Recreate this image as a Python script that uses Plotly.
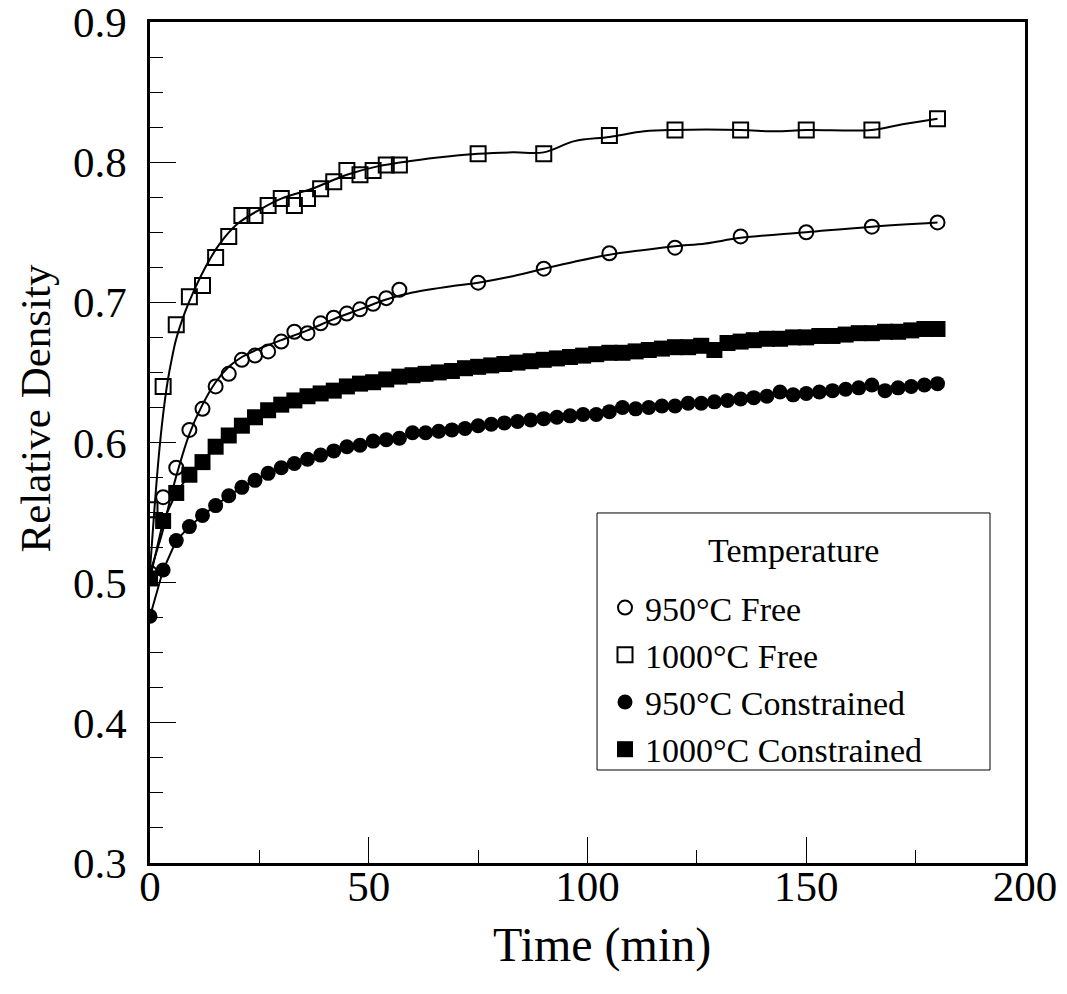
import plotly.graph_objects as go

# ---- data ----
t_free = [0, 3, 6, 9, 12, 15, 18, 21, 24, 27, 30, 33, 36, 39, 42, 45, 48, 51, 54, 57,
          75, 90, 105, 120, 135, 150, 165, 180]
rd_950_free = [0.507, 0.561, 0.582, 0.609, 0.624, 0.640, 0.649, 0.659, 0.662, 0.665,
               0.672, 0.679, 0.678, 0.685, 0.689, 0.692, 0.695, 0.699, 0.703, 0.709,
               0.714, 0.724, 0.735, 0.739, 0.747, 0.750, 0.754, 0.757]
rd_1000_free = [0.552, 0.640, 0.684, 0.704, 0.712, 0.732, 0.747, 0.762, 0.762, 0.769,
                0.774, 0.769, 0.774, 0.781, 0.786, 0.794, 0.791, 0.794, 0.798, 0.798,
                0.806, 0.806, 0.819, 0.823, 0.823, 0.823, 0.823, 0.831]

t_con = [0, 3, 6, 9, 12, 15, 18, 21, 24, 27, 30, 33, 36, 39, 42, 45, 48, 51, 54, 57,
         60, 63, 66, 69, 72, 75, 78, 81, 84, 87, 90, 93, 96, 99, 102, 105, 108, 111,
         114, 117, 120, 123, 126, 129, 132, 135, 138, 141, 144, 147, 150, 153, 156,
         159, 162, 165, 168, 171, 174, 177, 180]
rd_950_con = [0.476, 0.509, 0.530, 0.540, 0.548, 0.555, 0.562, 0.568, 0.573, 0.578,
              0.582, 0.585, 0.588, 0.591, 0.594, 0.597, 0.598, 0.601, 0.602, 0.603,
              0.607, 0.607, 0.608, 0.609, 0.610, 0.612, 0.613, 0.614, 0.615, 0.616,
              0.617, 0.618, 0.619, 0.620, 0.620, 0.622, 0.625, 0.624, 0.625, 0.626,
              0.626, 0.628, 0.628, 0.629, 0.630, 0.631, 0.632, 0.633, 0.636, 0.634,
              0.635, 0.636, 0.637, 0.638, 0.639, 0.641, 0.637, 0.639, 0.640, 0.641,
              0.642]
rd_1000_con = [0.503, 0.544, 0.564, 0.577, 0.586, 0.597, 0.605, 0.612, 0.618, 0.623,
               0.627, 0.630, 0.633, 0.635, 0.637, 0.640, 0.642, 0.643, 0.645, 0.647,
               0.648, 0.649, 0.650, 0.651, 0.653, 0.654, 0.655, 0.656, 0.657, 0.658,
               0.659, 0.660, 0.661, 0.662, 0.663, 0.664, 0.664, 0.665, 0.666, 0.667,
               0.668, 0.668, 0.669, 0.666, 0.671, 0.672, 0.673, 0.674, 0.674, 0.675,
               0.675, 0.676, 0.676, 0.677, 0.678, 0.678, 0.679, 0.679, 0.680, 0.681,
               0.681]

# fitted curves drawn through the free-sintering data
fit_t_950 = [0, 1.5, 3, 4.5, 6, 9, 12, 15, 18, 21, 25, 30, 36, 42, 48, 54, 60, 70, 75,
             82, 90, 97, 105, 112, 120, 127, 135, 150, 165, 180]
fit_rd_950 = [0.507, 0.522, 0.538, 0.558, 0.576, 0.606, 0.627, 0.643, 0.654, 0.661,
              0.667, 0.673, 0.680, 0.688, 0.695, 0.702, 0.707, 0.712, 0.714, 0.718,
              0.724, 0.729, 0.734, 0.737, 0.740, 0.742, 0.746, 0.750, 0.754, 0.757]
fit_t_1000 = [0, 1, 2, 3, 4, 5, 6, 8, 10, 13, 16, 20, 25, 30, 37, 45, 52, 60, 68, 75,
              83, 90, 97, 105, 113, 120, 135, 143, 150, 165, 172, 180]
fit_rd_1000 = [0.509, 0.552, 0.590, 0.620, 0.643, 0.660, 0.674, 0.693, 0.708, 0.727,
               0.742, 0.756, 0.766, 0.774, 0.781, 0.791, 0.797, 0.801, 0.804, 0.806,
               0.807, 0.807, 0.815, 0.818, 0.822, 0.823, 0.823, 0.822, 0.823, 0.823,
               0.827, 0.831]

labels = ["950°C Free", "1000°C Free", "950°C Constrained", "1000°C Constrained"]
x_ticks = [0, 50, 100, 150, 200]
y_ticks = [0.3, 0.4, 0.5, 0.6, 0.7, 0.8, 0.9]
x_title = "Time (min)"
y_title = "Relative Density"
legend_title = "Temperature"

FONT = "Liberation Serif"
fig = go.Figure()

# constrained connecting lines (mostly hidden beneath markers)
fig.add_trace(go.Scatter(x=t_con, y=rd_950_con, mode="lines",
                         line=dict(color="black", width=2), showlegend=False, hoverinfo="skip"))
fig.add_trace(go.Scatter(x=t_con, y=rd_1000_con, mode="lines",
                         line=dict(color="black", width=2), showlegend=False, hoverinfo="skip"))

fig.add_trace(go.Scatter(x=t_free, y=rd_950_free, mode="markers", name=labels[0],
                         legendgroup="a",
                         marker=dict(symbol="circle-open", size=14, color="black",
                                     line=dict(width=2, color="black"))))
fig.add_trace(go.Scatter(x=t_free, y=rd_1000_free, mode="markers", name=labels[1],
                         legendgroup="b",
                         marker=dict(symbol="square-open", size=15, color="black",
                                     line=dict(width=2, color="black"))))
fig.add_trace(go.Scatter(x=t_con, y=rd_950_con, mode="markers", name=labels[2],
                         legendgroup="c",
                         marker=dict(symbol="circle", size=15, color="black",
                                     line=dict(width=0))))
fig.add_trace(go.Scatter(x=t_con, y=rd_1000_con, mode="markers", name=labels[3],
                         legendgroup="d",
                         marker=dict(symbol="square", size=16, color="black",
                                     line=dict(width=0))))

fig.add_trace(go.Scatter(x=fit_t_950, y=fit_rd_950, mode="lines", line_shape="spline",
                         line=dict(color="black", width=2), showlegend=False, hoverinfo="skip"))
fig.add_trace(go.Scatter(x=fit_t_1000, y=fit_rd_1000, mode="lines", line_shape="spline",
                         line=dict(color="black", width=2), showlegend=False, hoverinfo="skip"))

axis_common = dict(
    showgrid=False, zeroline=False, showline=True, linecolor="black", linewidth=2.5,
    mirror=True, ticks="inside", tickcolor="black", tickwidth=1, ticklen=26,
    tickfont=dict(family=FONT, size=43, color="black"), automargin=False,
    ticklabeloverflow="allow",
)
fig.update_xaxes(range=[0, 200], tickvals=x_ticks, ticktext=[str(v) for v in x_ticks],
                 ticklabelstandoff=-16,
                 minor=dict(dtick=25, tick0=0, ticks="inside", ticklen=13, tickwidth=1,
                            tickcolor="black"),
                 **axis_common)
fig.update_yaxes(range=[0.3, 0.9], tickvals=y_ticks, ticktext=[f"{v:.1f}" for v in y_ticks],
                 ticklabelstandoff=12,
                 minor=dict(dtick=0.025, tick0=0.3, ticks="inside", ticklen=13, tickwidth=1,
                            tickcolor="black"),
                 **axis_common)

# axis titles placed as annotations to match the reference positions
fig.add_annotation(text=x_title, xref="paper", yref="paper", x=0.517, y=-0.0975,
                   xanchor="center", yanchor="middle", showarrow=False,
                   font=dict(family=FONT, size=48, color="black"))
fig.add_annotation(text=y_title, xref="paper", yref="paper", x=-0.131, y=0.541,
                   xanchor="center", yanchor="middle", showarrow=False, textangle=-90,
                   font=dict(family=FONT, size=43, color="black"))

# legend frame and heading
fig.add_shape(type="rect", xref="paper", yref="paper",
              x0=0.5109, x1=0.960, y0=0.1106, y1=0.4162,
              line=dict(color="black", width=1), fillcolor="white", layer="above")
fig.add_annotation(text=legend_title, xref="paper", yref="paper", x=0.735, y=0.372,
                   xanchor="center", yanchor="middle", showarrow=False,
                   font=dict(family=FONT, size=34, color="black"))

fig.update_layout(
    width=1067, height=994,
    margin=dict(l=150, r=42, t=22, b=131),
    paper_bgcolor="white", plot_bgcolor="white",
    font=dict(family=FONT, color="black"),
    legend=dict(
        x=0.52, y=0.3377, xanchor="left", yanchor="top",
        bgcolor="rgba(0,0,0,0)", borderwidth=0,
        font=dict(family=FONT, size=34, color="black"),
        tracegroupgap=0,
    ),
    showlegend=True,
)

fig.write_html("out.html")
